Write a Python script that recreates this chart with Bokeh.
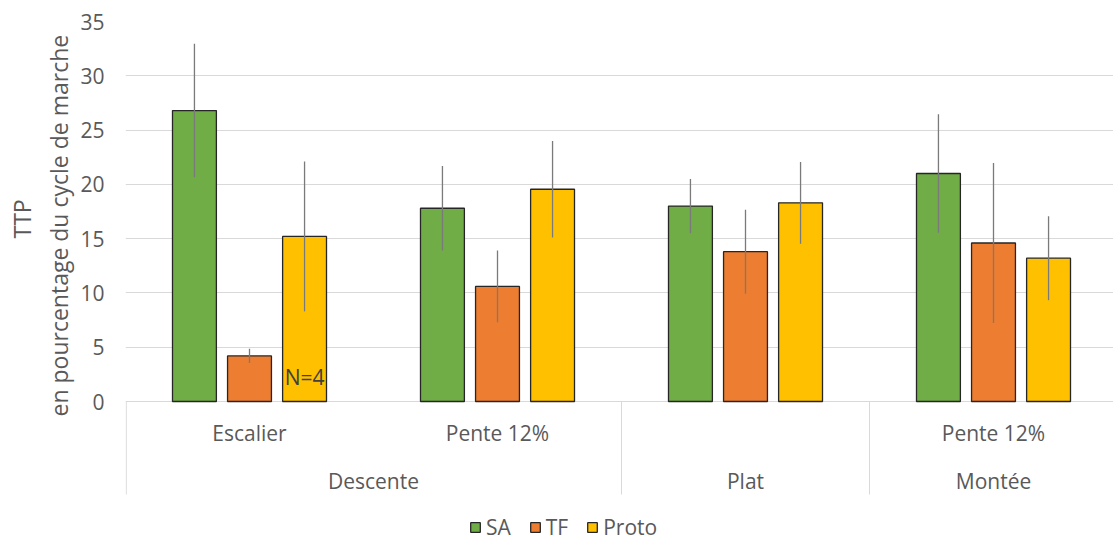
import math
from bokeh.plotting import figure
from bokeh.models import Range1d, FixedTicker, Title, ColumnDataSource
from bokeh.core.properties import value
from bokeh.embed import file_html
from bokeh.resources import INLINE

# ---- data ----
groups = ["Descente", "Descente", "Plat", "Montée"]
subcats = ["Escalier", "Pente 12%", "", "Pente 12%"]
series = ["SA", "TF", "Proto"]
sa = [26.8, 17.8, 18.0, 21.0]
sa_err = [6.15, 3.9, 2.5, 5.45]
tf = [4.2, 10.6, 13.8, 14.6]
tf_err = [0.65, 3.3, 3.87, 7.37]
proto = [15.2, 19.55, 18.3, 13.2]
proto_err = [6.9, 4.45, 3.77, 3.87]
colors = ["#70AD47", "#ED7D31", "#FFC000"]
y_ticks = [0, 5, 10, 15, 20, 25, 30, 35]
note_text = "N=4"
y_title = ["TTP", "en pourcentage du cycle de marche"]

FONT = "Open Sans"
TXT = "#595959"
FS = "21px"
FS_T = "23px"

W, H = 1113, 540
TOP, LEFT = 21, 125
frame_h = H - TOP
px_per_unit = 380 / 35.0
y_min = 35 - frame_h / px_per_unit
cat_px = 248.0
x_end = (W - LEFT) / cat_px

p = figure(width=W, height=H, output_backend="svg", toolbar_location=None,
           x_range=Range1d(0, x_end), y_range=Range1d(y_min, 35),
           x_axis_location=None, min_border_left=LEFT, min_border_top=TOP,
           min_border_bottom=0, min_border_right=0, outline_line_color=None)
p.xgrid.grid_line_color = None
p.ygrid.grid_line_color = "#D9D9D9"
p.ygrid.grid_line_width = 1
p.yaxis.ticker = FixedTicker(ticks=y_ticks)
p.yaxis.axis_line_color = None
p.yaxis.major_tick_line_color = None
p.yaxis.minor_tick_line_color = None
p.yaxis.major_tick_out = 0
p.yaxis.major_tick_in = 0
p.yaxis.major_label_text_font = FONT
p.yaxis.major_label_text_font_size = FS
p.yaxis.major_label_text_color = TXT
p.yaxis.major_label_standoff = 21

offsets = [-0.222, 0.0, 0.222]
bw = 0.177
vals = [sa, tf, proto]
errs = [sa_err, tf_err, proto_err]
for k, name in enumerate(series):
    xs = [i + 0.5 + offsets[k] for i in range(len(groups))]
    src = ColumnDataSource(dict(x=xs, top=vals[k],
                                lo=[v - e for v, e in zip(vals[k], errs[k])],
                                hi=[v + e for v, e in zip(vals[k], errs[k])]))
    p.vbar(x="x", top="top", bottom=0, width=bw, source=src, fill_color=colors[k],
           line_color="#262626", line_width=1.3, legend_label=name)
    p.segment(x0="x", y0="lo", x1="x", y1="hi", source=src,
              line_color="#7A7A7A", line_width=1.3)

# category axis drawn inside the frame below zero
sub_y = -31 / px_per_unit
grp_y = -79 / px_per_unit
sep_bottom = -93 / px_per_unit
sx = [i + 0.5 for i, s in enumerate(subcats) if s]
st = [s for s in subcats if s]
p.text(x=sx, y=[sub_y] * len(sx), text=st, text_align="center", text_baseline="middle",
       text_font=value(FONT), text_font_size=FS, text_color=TXT)

uniq = []
for g in groups:
    if g not in uniq:
        uniq.append(g)
gx, starts = [], []
for g in uniq:
    idx = [i for i, gg in enumerate(groups) if gg == g]
    gx.append((idx[0] + idx[-1] + 1) / 2.0)
    starts.append(idx[0])
p.text(x=gx, y=[grp_y] * len(gx), text=uniq, text_align="center", text_baseline="middle",
       text_font=value(FONT), text_font_size=FS, text_color=TXT)
sep_x = [s + (0.003 if s == 0 else 0) for s in starts]
p.segment(x0=sep_x, y0=[0] * len(sep_x), x1=sep_x, y1=[sep_bottom] * len(sep_x),
          line_color="#D9D9D9", line_width=1)

# N=4 note on Escalier / Proto bar
p.text(x=[0 + 0.5 + offsets[2]], y=[2.3], text=[note_text], text_align="center",
       text_baseline="middle", text_font=value(FONT), text_font_size=FS,
       text_color="#404040")

# y axis title (two lines), bottom-anchored with offsets from frame bottom
title_offsets = [302, 124]
title_standoffs = [0, 6]
for t, off, so in reversed(list(zip(y_title, title_offsets, title_standoffs))):
    p.add_layout(Title(text=t, align="left", offset=off, text_font=FONT,
                       text_font_size=FS_T, text_font_style="normal", text_color=TXT,
                       standoff=so), "left")

lg = p.legend[0]
lg.orientation = "horizontal"
lg.location = (344, -1)
lg.padding = 0
lg.margin = 0
lg.spacing = 18
lg.label_standoff = 5
lg.glyph_width = 12
lg.glyph_height = 12
lg.label_text_font = FONT
lg.label_text_font_size = FS
lg.label_text_color = TXT
lg.background_fill_alpha = 0
lg.border_line_alpha = 0

open("out.html", "w").write(file_html(p, INLINE))
